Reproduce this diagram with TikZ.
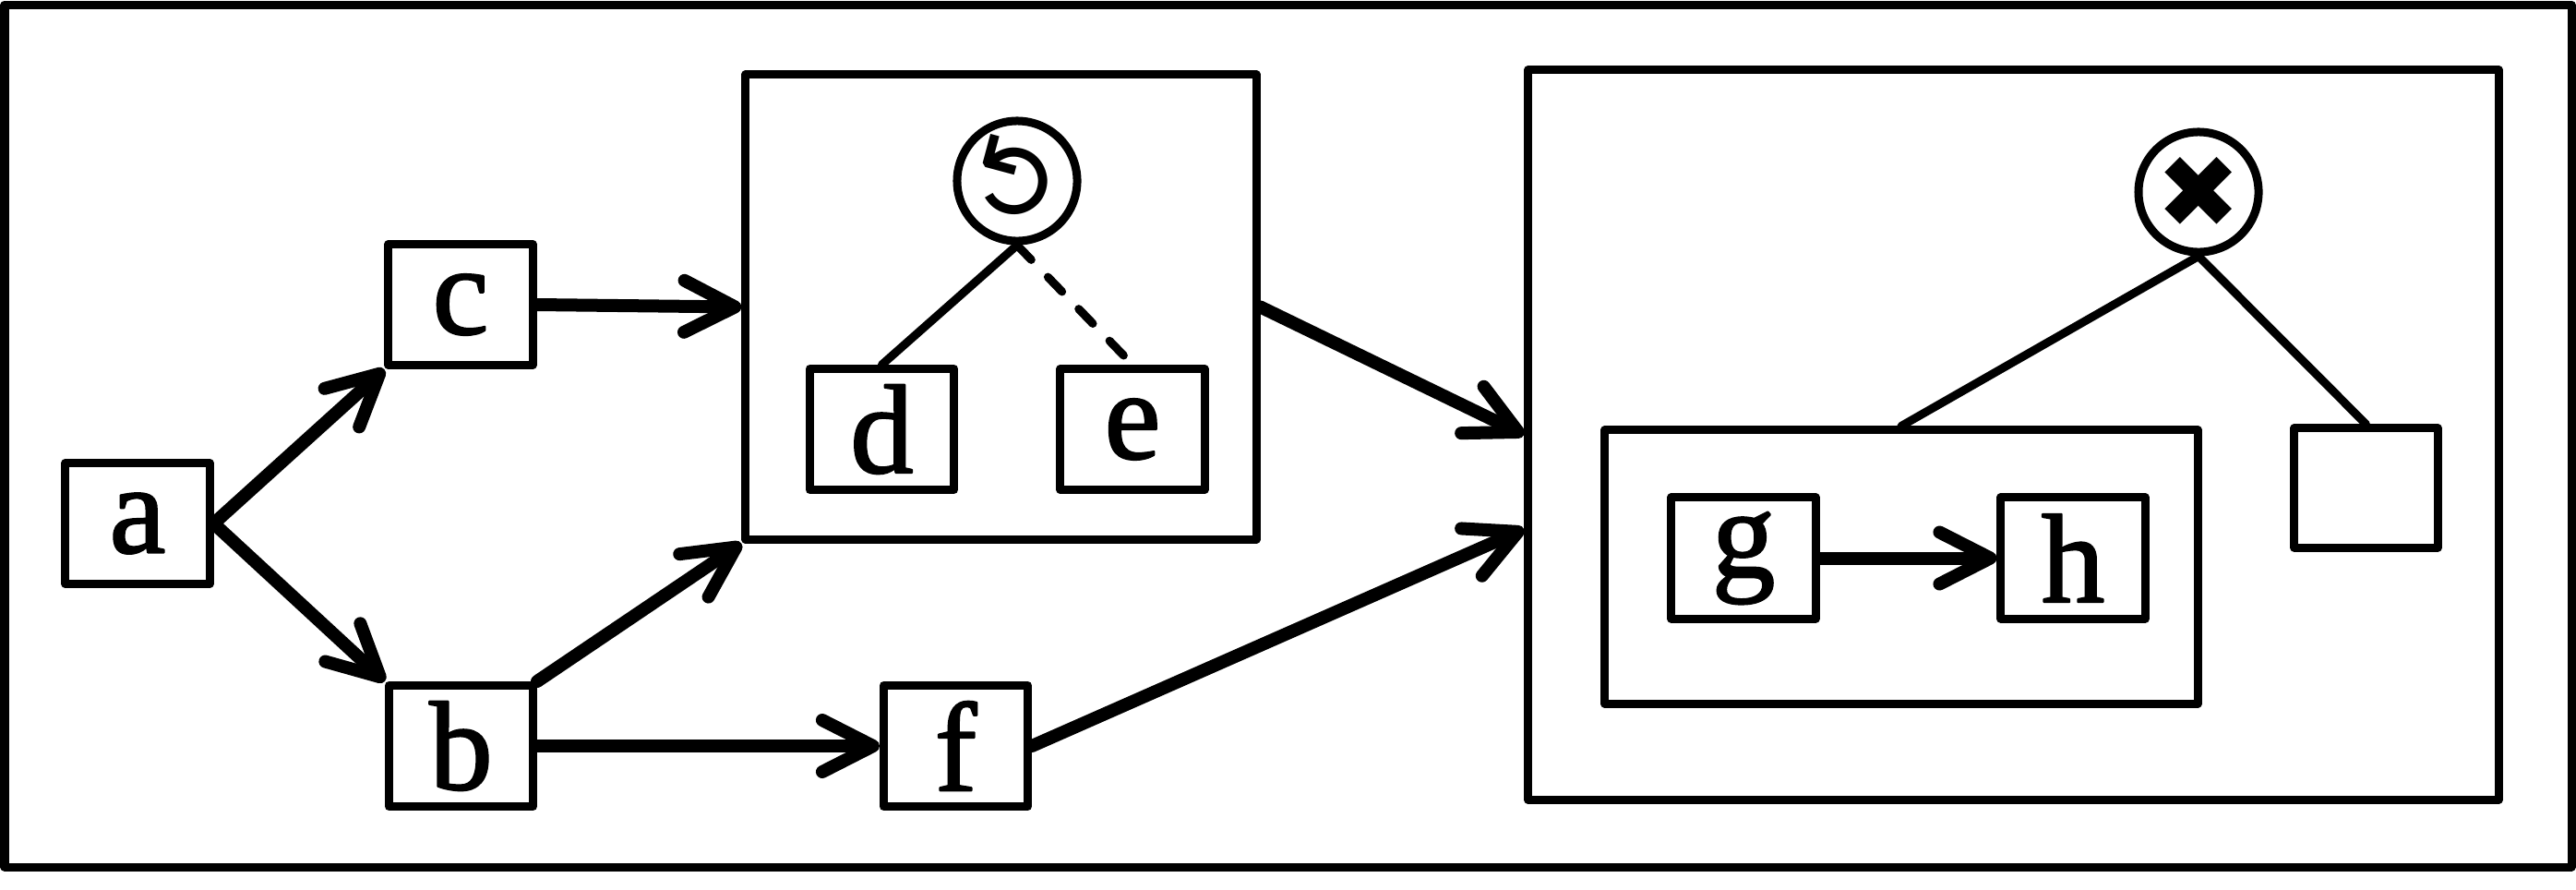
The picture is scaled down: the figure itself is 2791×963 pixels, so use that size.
\documentclass[tikz,border=0pt]{standalone}
\usepackage{fontspec}
\setmainfont{Liberation Serif}
\newfontfamily\labelfont{Liberation Serif}[FakeBold=1.6]
\newfontfamily\symfont{DejaVu Sans}
\usetikzlibrary{arrows.meta}

\begin{document}
\begin{tikzpicture}[x=0.01cm,y=-0.01cm,
	box/.style={draw,line width=0.09cm,line join=round,inner sep=0pt,minimum width=1.56cm,minimum height=1.31cm,font=\labelfont\fontsize{39}{44}\selectfont},
	cluster/.style={draw,line width=0.09cm,line join=round,inner sep=0pt},
	opnode/.style={draw,circle,line width=0.09cm,minimum size=1.3cm,inner sep=0pt},
	opsym/.style={inner sep=0pt,font=\symfont\fontsize{#1}{#1}\selectfont},
	flow/.style={line width=0.14cm,line cap=round,-{Straight Barb[length=5.5mm,width=5.6mm,round]}},
	tree/.style={line width=0.09cm,line cap=round}]
\useasboundingbox (0,0) rectangle (2791,963);
\draw[line width=0.09cm,line join=round] (5,5) rectangle (2786,939);

%clusters
\node[cluster,minimum width=5.53cm,minimum height=5.03cm] (L) at (1084.5,332.5) {};
\node[cluster,minimum width=10.51cm,minimum height=7.9cm] (X) at (2181.5,471) {};
\node[cluster,minimum width=6.42cm,minimum height=2.96cm] (P) at (2060,614) {};

%activities
\node[box] (a) at (149,567) {a};
\node[box] (c) at (499,330) {c};
\node[box] (b) at (499.5,808) {b};
\node[box] (f) at (1035.5,808) {f};
\node[box] (d) at (955.5,465) {d};
\node[box] (e) at (1227,465) {e};
\node[box] (g) at (1889,604.5) {g};
\node[box] (h) at (2246,604.5) {h};
\node[box,minimum width=1.55cm,minimum height=1.29cm] (s) at (2563.5,528.5) {};

%operators
\node[opnode] (loop) at (1102,196) {};
\node[opsym=34,rotate=75] (loopsym) at (loop.center) {↺};
\node[opnode] (xor) at (2382,208) {};
\node[opsym=31] (xorsym) at (xor.center) {✖};

%tree
\draw[tree] (loop.south) -- (d.north);
\draw[tree,dash pattern=on 2.2mm off 2.6mm] (loop.south) -- (e.north);
\draw[tree] (xor.south) -- (P.north);
\draw[tree] (xor.south) -- (s.north);

%order
\draw[flow] (a.east) -- (c.south west);
\draw[flow] (a.east) -- (b.north west);
\draw[flow] (c.east) -- (L.west);
\draw[flow] (b.north east) -- (L.south west);
\draw[flow] (b.east) -- (f.west);
\draw[flow] (L.east) -- (X.west);
\draw[flow] (f.east) -- ([yshift=-1.02cm]X.west);
\draw[flow] (g.east) -- (h.west);
\end{tikzpicture}
\end{document}
